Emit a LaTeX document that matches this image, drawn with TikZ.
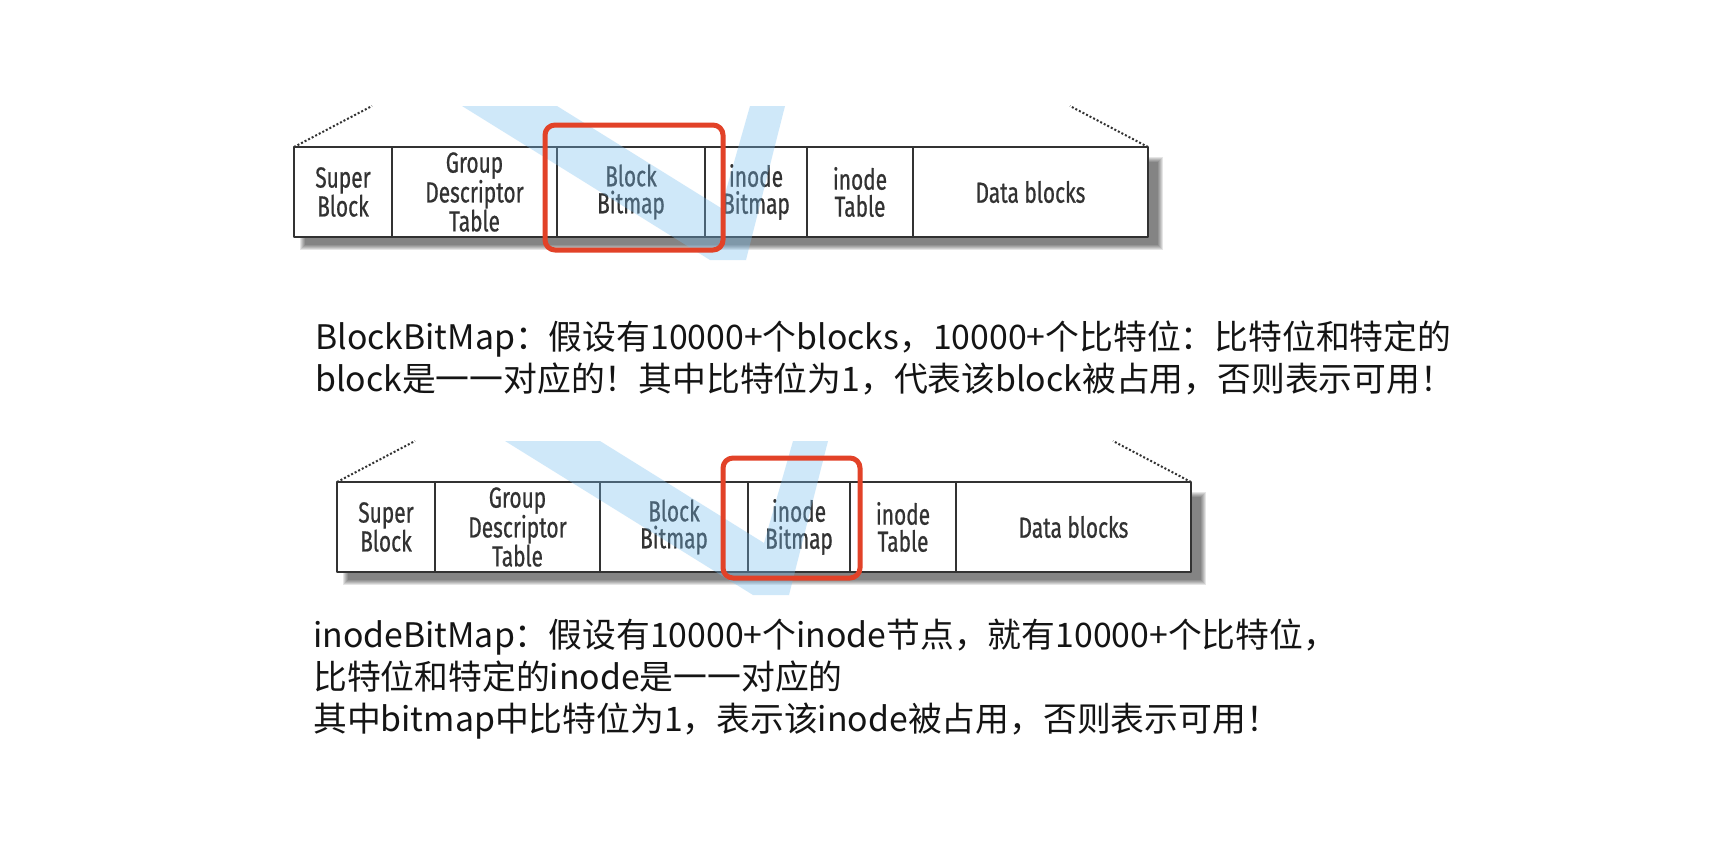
\documentclass[tikz,border=0pt]{standalone}
\usepackage{fontspec}
\setmainfont{Noto Sans CJK SC}
\newfontfamily\cellfont[FakeStretch=0.72,FakeBold=0.6]{Fira Sans}
\usetikzlibrary{calc}

\definecolor{markred}{RGB}{226,66,40}
\definecolor{wmblue}{RGB}{120,190,240}
\definecolor{cellgray}{RGB}{50,50,50}

\begin{document}
\begin{tikzpicture}[x=1pt,y=-1pt,line cap=round,line join=round,
  cell/.style={draw=cellgray,line width=2pt,fill=white,inner sep=0pt,outer sep=0pt,
    minimum height=90pt,align=center,text=cellgray,
    font=\cellfont\fontsize{29}{27}\selectfont},
  dotline/.style={draw=cellgray,line width=2pt,line cap=butt,dash pattern=on 2pt off 2pt},
  markbox/.style={draw=markred,line width=5pt,rounded corners=10pt},
  wmark/.style={fill=wmblue,opacity=0.35},
  desc/.style={anchor=base west,inner sep=0pt,text=black!92,font=\fontsize{33.8}{42}\selectfont}]
\useasboundingbox (0,0) rectangle (1728,844);
\fill[white] (0,0) rectangle (1728,844);
% the two block group rows
\foreach \dx/\dy/\p in {0/0/a,43/335/b}{
\begin{scope}[shift={(\dx,\dy)},name prefix=\p-]
\foreach \k in {0,...,5}
  \fill[black,opacity=0.1] (300+\k,157+\k) rectangle (1163-\k,250-\k);
\foreach \nm/\cx/\w/\txt in {sb/343/98/{Super\\Block},gdt/474.5/165/{Group\\Descriptor\\Table},
    bb/631/148/{Block\\Bitmap},ib/756/102/{inode\\Bitmap},it/860/106/{inode\\Table},db/1030.5/235/{Data blocks}}
  \node[cell,minimum width=\w pt] (\nm) at (\cx,192) {\txt};
\draw[dotline] (sb.north west) -- ++(78,-41);
\draw[dotline] (db.north east) -- ++(-78,-41);
\fill[wmark] (462,106) -- (557,106) -- (721,208) -- (750,106) -- (785,106) -- (746,260) -- (710,260) -- cycle;
\end{scope}
}
% marks
\draw[markbox] ($(a-bb.north west)+(-12,-22)$) rectangle ($(a-bb.south east)+(18,13)$);
\draw[markbox] ($(b-ib.north west)+(-25,-24)$) rectangle ($(b-ib.south east)+(10,6)$);
% text
\node[desc] (blk1) at (315,349) {BlockBitMap：假设有10000+个blocks，10000+个比特位：比特位和特定的};
\node[desc] (blk2) at (315,391) {block是一一对应的！其中比特位为1，代表该block被占用，否则表示可用！};
\node[desc] (ino1) at (313,647) {inodeBitMap：假设有10000+个inode节点，就有10000+个比特位，};
\node[desc] (ino2) at (313,689) {比特位和特定的inode是一一对应的};
\node[desc] (ino3) at (313,731) {其中bitmap中比特位为1，表示该inode被占用，否则表示可用！};
\end{tikzpicture}
\end{document}
